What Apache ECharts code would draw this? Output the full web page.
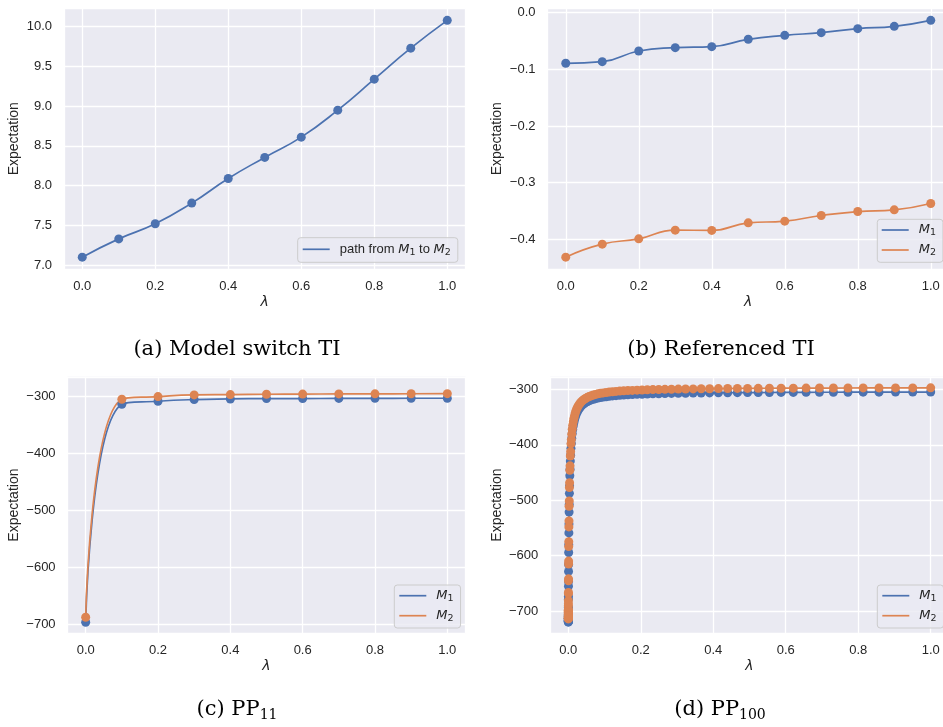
<!DOCTYPE html>
<html>
<head>
<meta charset="utf-8">
<title>Expectation along lambda</title>
<script src="https://cdn.jsdelivr.net/npm/echarts@6.0.0/dist/echarts.min.js"></script>
<style>
body{margin:0;background:#fff;}
#tx{width:943px;height:727px;}
</style>
</head>
<body>
<div id="tx"></div>
<script>
// (a) model switch TI
var lamA = [0, 0.1, 0.2, 0.3, 0.4, 0.5, 0.6, 0.7, 0.8, 0.9, 1.0];
var pathA = [7.10, 7.33, 7.52, 7.78, 8.09, 8.355, 8.61, 8.95, 9.34, 9.73, 10.08];

// (b) referenced TI
var lamB = [0, 0.1, 0.2, 0.3, 0.4, 0.5, 0.6, 0.7, 0.8, 0.9, 1.0];
var m1B = [-0.0894, -0.0865, -0.0676, -0.0618, -0.0600, -0.0470, -0.0400, -0.0353, -0.0282, -0.0241, -0.0135];
var m2B = [-0.4318, -0.4088, -0.3994, -0.3841, -0.3845, -0.3712, -0.3682, -0.3582, -0.3512, -0.3482, -0.3371];

// (c) PP11
var lamC = [0, 0.1, 0.2, 0.3, 0.4, 0.5, 0.6, 0.7, 0.8, 0.9, 1.0];
var m1C = [-696.5, -314.6, -309.3, -306.4, -305.3, -304.7, -304.6, -304.4, -304.2, -304.1, -304.1];
var m2C = [-687.7, -305.8, -301.2, -298.2, -297.7, -297.1, -296.8, -296.5, -296.3, -296.2, -296.0];

// (d) PP100
var lamD = [0, 1e-10, 3.4e-9, 2.56e-8, 1.08e-7, 3.29e-7, 8.18e-7, 1.77e-6, 3.45e-6, 6.21e-6,
    1.05e-5, 1.69e-5, 2.62e-5, 3.90e-5, 5.66e-5, 7.99e-5, 1.103e-4, 1.493e-4, 1.987e-4, 2.604e-4,
    3.365e-4, 4.295e-4, 5.419e-4, 6.768e-4, 8.373e-4, 0.001027, 0.001249, 0.001509, 0.001810, 0.002157,
    0.002555, 0.003011, 0.003528, 0.004115, 0.004778, 0.005523, 0.006358, 0.007292, 0.008332, 0.009487,
    0.010768, 0.012183, 0.013743, 0.015458, 0.017342, 0.019404, 0.021658, 0.024116, 0.026793, 0.029703,
    0.032860, 0.036281, 0.039980, 0.043975, 0.048283, 0.052922, 0.057911, 0.063270, 0.069018, 0.075177,
    0.081767, 0.088812, 0.096335, 0.104358, 0.112908, 0.122009, 0.131687, 0.141970, 0.152886, 0.164464,
    0.176732, 0.189721, 0.203464, 0.217991, 0.233336, 0.249534, 0.266619, 0.284628, 0.303597, 0.323564,
    0.344567, 0.366648, 0.389846, 0.414204, 0.439765, 0.466572, 0.494672, 0.524109, 0.554930, 0.587185,
    0.620921, 0.656192, 0.693046, 0.731540, 0.771725, 0.813657, 0.857393, 0.902988, 0.950503, 1.0];
var m1D = [-716.0, -716.4, -719.0, -711.8, -719.5, -719.8, -714.2, -718.1, -709.6, -717.7,
    -715.8, -713.5, -716.9, -708.4, -713.0, -703.2, -706.9, -694.1, -692.8, -678.5,
    -673.2, -655.0, -646.7, -628.4, -616.0, -594.3, -580.2, -558.9, -543.0, -521.4,
    -507.7, -487.5, -474.0, -455.8, -444.1, -429.3, -418.9, -406.4, -397.5, -388.0,
    -379.8, -372.4, -365.8, -359.8, -354.5, -349.7, -345.4, -341.5, -338.1, -335.0,
    -332.2, -329.7, -327.4, -325.4, -323.5, -321.9, -320.4, -319.0, -317.8, -316.7,
    -315.7, -314.8, -313.9, -313.2, -312.5, -311.8, -311.3, -310.7, -310.2, -309.8,
    -309.4, -309.0, -308.7, -308.3, -308.0, -307.8, -307.5, -307.3, -307.1, -306.9,
    -306.7, -306.5, -306.4, -306.2, -306.1, -305.9, -305.8, -305.7, -305.6, -305.5,
    -305.4, -305.3, -305.2, -305.2, -305.1, -305.0, -305.0, -304.9, -304.9, -304.8];
var m2D = [-709.8, -713.2, -702.5, -714.0, -706.1, -711.9, -698.4, -713.0, -704.7, -712.2,
    -700.3, -708.6, -710.4, -697.1, -706.8, -690.5, -699.4, -681.2, -686.9, -668.1,
    -666.4, -645.2, -641.8, -615.0, -609.7, -583.6, -574.9, -548.1, -537.5, -510.8,
    -501.2, -476.9, -468.3, -446.0, -437.9, -420.1, -412.3, -398.2, -390.6, -380.9,
    -372.0, -364.8, -358.2, -352.2, -346.9, -342.1, -337.8, -333.9, -330.5, -327.4,
    -324.6, -322.1, -319.8, -317.8, -315.9, -314.3, -312.8, -311.4, -310.2, -309.1,
    -308.1, -307.2, -306.3, -305.6, -304.9, -304.2, -303.7, -303.1, -302.6, -302.2,
    -301.8, -301.4, -301.1, -300.7, -300.4, -300.2, -299.9, -299.7, -299.5, -299.3,
    -299.1, -298.9, -298.8, -298.6, -298.5, -298.3, -298.2, -298.1, -298.0, -297.9,
    -297.8, -297.7, -297.6, -297.6, -297.5, -297.4, -297.4, -297.3, -297.3, -297.2];

var captions = ['(a) Model switch TI', '(b) Referenced TI', '(c) PP', '(d) PP'];
var captionSubs = ['', '', '11', '100'];

var BLUE = '#4c72b0', ORANGE = '#dd8452', INK = '#262626';

function pairs(xs, ys){
    return xs.map(function(x, i){ return [x, ys[i]]; });
}

function lineSeries(name, color, xs, ys, idx, smooth){
    return {
        type: 'line', name: name, xAxisIndex: idx, yAxisIndex: idx,
        data: pairs(xs, ys), smooth: smooth,
        symbol: 'circle', symbolSize: 9, showAllSymbol: true,
        lineStyle: {color: color, width: 1.7},
        itemStyle: {color: color},
        emphasis: {disabled: true},
        animation: false
    };
}

function minusFmt(dec){
    return function(v){
        var s = Math.abs(v).toFixed(dec);
        return (v < 0 && Number(s) !== 0 ? '\u2212' : '') + s;
    };
}

function onStep(step, fmt){
    return function(v){
        var k = v / step;
        return Math.abs(k - Math.round(k)) < 1e-6 ? fmt(v) : '';
    };
}

function xAx(idx){
    return {
        type: 'value', gridIndex: idx, min: -0.05, max: 1.05, minInterval: 0.2, maxInterval: 0.2,
        name: 'λ', nameLocation: 'middle', nameGap: 26,
        nameTextStyle: {fontFamily: 'DejaVu Sans', fontStyle: 'italic', fontSize: 14, color: INK},
        axisLine: {show: false}, axisTick: {show: false},
        splitLine: {show: true, lineStyle: {color: '#ffffff', width: 1.3}},
        axisLabel: {margin: 10.5, color: INK, fontSize: 13, fontFamily: 'Liberation Sans',
            showMinLabel: false, showMaxLabel: false, formatter: onStep(0.2, minusFmt(1))}
    };
}

function yAx(idx, min, max, step, dec, gap){
    return {
        type: 'value', gridIndex: idx, min: min, max: max, minInterval: step, maxInterval: step,
        name: 'Expectation', nameLocation: 'middle', nameRotate: 90, nameGap: gap,
        nameTextStyle: {fontFamily: 'Liberation Sans', fontSize: 14, color: INK},
        axisLine: {show: false}, axisTick: {show: false},
        splitLine: {show: true, lineStyle: {color: '#ffffff', width: 1.3}},
        axisLabel: {margin: 12, color: INK, fontSize: 13, fontFamily: 'Liberation Sans',
            showMinLabel: false, showMaxLabel: false, formatter: onStep(step, minusFmt(dec))}
    };
}

function grid(left, top, width, height){
    return {left: left, top: top, width: width, height: height, show: true,
        backgroundColor: '#eaeaf2', borderWidth: 0, containLabel: false, outerBoundsMode: 'none'};
}

var legendRich = {
    m: {fontFamily: 'DejaVu Sans', fontStyle: 'italic', fontSize: 13, lineHeight: 16, color: INK},
    s: {fontFamily: 'DejaVu Sans', fontSize: 9.5, lineHeight: 9, verticalAlign: 'bottom', color: INK}
};

function legend(names, left, top, padding){
    return {
        data: names, left: left, top: top, orient: 'vertical', padding: padding,
        icon: 'rect', itemWidth: 27, itemHeight: 1.7, itemGap: 4, selectedMode: false,
        backgroundColor: 'rgba(234,234,242,0.8)', borderColor: '#cccccc', borderWidth: 1, borderRadius: 3,
        textStyle: {fontFamily: 'Liberation Sans', fontSize: 13, lineHeight: 16, color: INK,
            padding: [0, 0, 0, 5], rich: legendRich},
        formatter: function(n){
            if (n === 'path') return 'path from {m|M}{s|1} to {m|M}{s|2}';
            return '{m|M}{s|' + n.charAt(1) + '}';
        }
    };
}

var capRich = {
    n: {fontFamily: 'DejaVu Serif', fontSize: 21, lineHeight: 26, fill: '#000'},
    s: {fontFamily: 'DejaVu Serif', fontSize: 14, lineHeight: 18, verticalAlign: 'bottom', fill: '#000'}
};
var capPos = [[237, 349.5], [721, 349.5], [237, 709.5], [720, 709.5]];

var myChart = echarts.init(document.getElementById('tx'), null, {renderer: 'canvas'});
var option = {
    backgroundColor: '#ffffff',
    animation: false,
    grid: [
        grid(64, 8.5, 401.5, 260.5),
        grid(547.5, 8.5, 401.5, 260.5),
        grid(67.6, 376.8, 397.8, 256.6),
        grid(550.2, 376.8, 398.6, 256.6)
    ],
    xAxis: [xAx(0), xAx(1), xAx(2), xAx(3)],
    yAxis: [
        yAx(0, 6.951, 10.229, 0.5, 1, 42.7),
        yAx(1, -0.4527, 0.0074, 0.1, 1, 43.2),
        yAx(2, -716, -266.5, 100, 0, 46.3),
        yAx(3, -740.2, -277.3, 100, 0, 45.9)
    ],
    legend: [
        legend(['path'], 297.7, 237.7, [3.6, 7, 5, 5]),
        legend(['M1', 'M2'], 877.3, 219.3, [2.7, 7, 4.3, 4.4]),
        legend(['M1', 'M2'], 394.3, 585, [2.7, 7, 4.3, 5]),
        legend(['M1', 'M2'], 877.3, 585, [2.7, 7, 4.3, 5])
    ],
    series: [
        lineSeries('path', BLUE, lamA, pathA, 0, true),
        lineSeries('M1', BLUE, lamB, m1B, 1, true),
        lineSeries('M2', ORANGE, lamB, m2B, 1, true),
        lineSeries('M1', BLUE, lamC, m1C, 2, true),
        lineSeries('M2', ORANGE, lamC, m2C, 2, true),
        lineSeries('M1', BLUE, lamD, m1D, 3, false),
        lineSeries('M2', ORANGE, lamD, m2D, 3, false)
    ],
    graphic: captions.map(function(c, i){
        var txt = '{n|' + c + '}' + (captionSubs[i] ? '{s|' + captionSubs[i] + '}' : '');
        return {type: 'text', x: capPos[i][0], y: capPos[i][1],
            style: {text: txt, rich: capRich, align: 'center', verticalAlign: 'middle'}};
    })
};
myChart.setOption(option);
</script>
</body>
</html>
